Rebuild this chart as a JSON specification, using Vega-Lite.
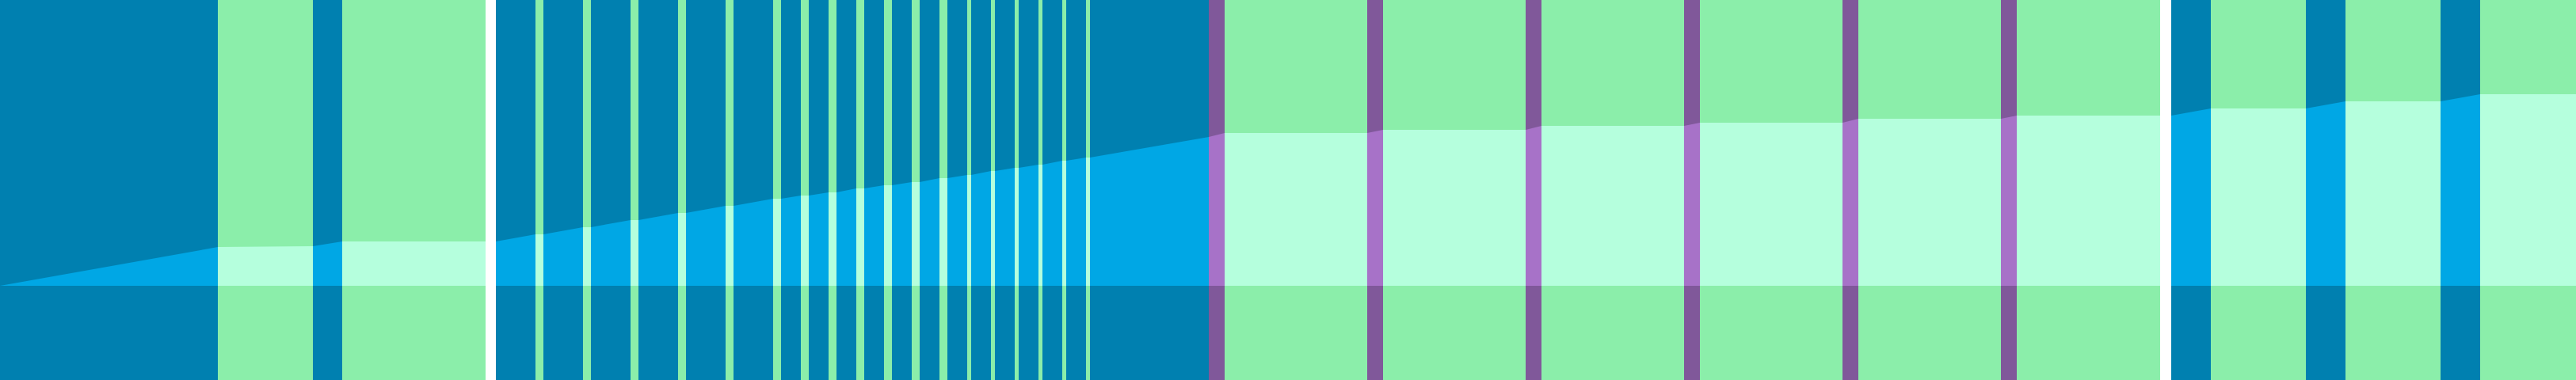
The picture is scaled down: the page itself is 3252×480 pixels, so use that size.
{
  "$schema": "https://vega.github.io/schema/vega-lite/v6.json",
  "width": 3252,
  "height": 480,
  "autosize": {"type": "fit", "contains": "padding"},
  "padding": 0,
  "background": "white",
  "config": {"view": {"stroke": null}},
  "datasets": {
    "bands": [
      {"start": 0, "end": 275, "kind": "run"},
      {"start": 275, "end": 395, "kind": "pause"},
      {"start": 395, "end": 432, "kind": "run"},
      {"start": 432, "end": 613, "kind": "pause"},
      {"start": 626, "end": 676, "kind": "run"},
      {"start": 676, "end": 686, "kind": "pause"},
      {"start": 686, "end": 736, "kind": "run"},
      {"start": 736, "end": 746, "kind": "pause"},
      {"start": 746, "end": 796, "kind": "run"},
      {"start": 796, "end": 806, "kind": "pause"},
      {"start": 806, "end": 856, "kind": "run"},
      {"start": 856, "end": 866, "kind": "pause"},
      {"start": 866, "end": 916, "kind": "run"},
      {"start": 916, "end": 926, "kind": "pause"},
      {"start": 926, "end": 976, "kind": "run"},
      {"start": 976, "end": 986, "kind": "pause"},
      {"start": 986, "end": 1011, "kind": "run"},
      {"start": 1011, "end": 1021, "kind": "pause"},
      {"start": 1021, "end": 1046, "kind": "run"},
      {"start": 1046, "end": 1056, "kind": "pause"},
      {"start": 1056, "end": 1081, "kind": "run"},
      {"start": 1081, "end": 1091, "kind": "pause"},
      {"start": 1091, "end": 1116, "kind": "run"},
      {"start": 1116, "end": 1126, "kind": "pause"},
      {"start": 1126, "end": 1151, "kind": "run"},
      {"start": 1151, "end": 1161, "kind": "pause"},
      {"start": 1161, "end": 1186, "kind": "run"},
      {"start": 1186, "end": 1196, "kind": "pause"},
      {"start": 1196, "end": 1221, "kind": "run"},
      {"start": 1221, "end": 1226, "kind": "pause"},
      {"start": 1226, "end": 1251, "kind": "run"},
      {"start": 1251, "end": 1256, "kind": "pause"},
      {"start": 1256, "end": 1281, "kind": "run"},
      {"start": 1281, "end": 1286, "kind": "pause"},
      {"start": 1286, "end": 1311, "kind": "run"},
      {"start": 1311, "end": 1316, "kind": "pause"},
      {"start": 1316, "end": 1341, "kind": "run"},
      {"start": 1341, "end": 1346, "kind": "pause"},
      {"start": 1346, "end": 1371, "kind": "run"},
      {"start": 1371, "end": 1376, "kind": "pause"},
      {"start": 1376, "end": 1526, "kind": "run"},
      {"start": 1526, "end": 1546, "kind": "step"},
      {"start": 1546, "end": 1726, "kind": "pause"},
      {"start": 1726, "end": 1746, "kind": "step"},
      {"start": 1746, "end": 1926, "kind": "pause"},
      {"start": 1926, "end": 1946, "kind": "step"},
      {"start": 1946, "end": 2126, "kind": "pause"},
      {"start": 2126, "end": 2146, "kind": "step"},
      {"start": 2146, "end": 2326, "kind": "pause"},
      {"start": 2326, "end": 2346, "kind": "step"},
      {"start": 2346, "end": 2526, "kind": "pause"},
      {"start": 2526, "end": 2546, "kind": "step"},
      {"start": 2546, "end": 2727, "kind": "pause"},
      {"start": 2741, "end": 2791, "kind": "run"},
      {"start": 2791, "end": 2911, "kind": "pause"},
      {"start": 2911, "end": 2961, "kind": "run"},
      {"start": 2961, "end": 3081, "kind": "pause"},
      {"start": 3081, "end": 3131, "kind": "run"},
      {"start": 3131, "end": 3252, "kind": "pause"}
    ],
    "progress": [
      {"t": 0, "level": 0},
      {"t": 275, "level": 49},
      {"t": 395, "level": 50},
      {"t": 432, "level": 56},
      {"t": 613, "level": 56},
      {"t": 626, "level": 56},
      {"t": 676, "level": 65},
      {"t": 686, "level": 65},
      {"t": 736, "level": 74},
      {"t": 746, "level": 74},
      {"t": 796, "level": 83},
      {"t": 806, "level": 83},
      {"t": 856, "level": 92},
      {"t": 866, "level": 92},
      {"t": 916, "level": 101},
      {"t": 926, "level": 101},
      {"t": 976, "level": 110},
      {"t": 986, "level": 110},
      {"t": 1011, "level": 114},
      {"t": 1021, "level": 114},
      {"t": 1046, "level": 118},
      {"t": 1056, "level": 118},
      {"t": 1081, "level": 123},
      {"t": 1091, "level": 123},
      {"t": 1116, "level": 127},
      {"t": 1126, "level": 127},
      {"t": 1151, "level": 131},
      {"t": 1161, "level": 131},
      {"t": 1186, "level": 136},
      {"t": 1196, "level": 136},
      {"t": 1221, "level": 140},
      {"t": 1226, "level": 140},
      {"t": 1251, "level": 145},
      {"t": 1256, "level": 145},
      {"t": 1281, "level": 149},
      {"t": 1286, "level": 149},
      {"t": 1311, "level": 153},
      {"t": 1316, "level": 153},
      {"t": 1341, "level": 158},
      {"t": 1346, "level": 158},
      {"t": 1371, "level": 162},
      {"t": 1376, "level": 162},
      {"t": 1526, "level": 188},
      {"t": 1546, "level": 193},
      {"t": 1726, "level": 193},
      {"t": 1746, "level": 197},
      {"t": 1926, "level": 197},
      {"t": 1946, "level": 202},
      {"t": 2126, "level": 202},
      {"t": 2146, "level": 206},
      {"t": 2326, "level": 206},
      {"t": 2346, "level": 211},
      {"t": 2526, "level": 211},
      {"t": 2546, "level": 215},
      {"t": 2727, "level": 215},
      {"t": 2741, "level": 215},
      {"t": 2791, "level": 224},
      {"t": 2911, "level": 224},
      {"t": 2961, "level": 233},
      {"t": 3081, "level": 233},
      {"t": 3131, "level": 242},
      {"t": 3252, "level": 242}
    ]
  },
  "layer": [
    {
      "data": {"name": "bands"},
      "mark": {"type": "rect"},
      "encoding": {
        "x": {"field": "start", "type": "quantitative", "scale": {"domain": [0, 3252], "nice": false, "zero": false}, "axis": null},
        "x2": {"field": "end"},
        "color": {
          "field": "kind",
          "type": "nominal",
          "scale": {"domain": ["run", "pause", "step"], "range": ["#0080b0", "#8beeaa", "#80589a"]},
          "legend": null
        }
      }
    },
    {
      "data": {"name": "progress"},
      "mark": {"type": "area", "color": "#3b3b3b", "blend": "color-dodge", "interpolate": "linear"},
      "encoding": {
        "x": {"field": "t", "type": "quantitative"},
        "y": {"field": "level", "type": "quantitative", "scale": {"domain": [-119, 361], "nice": false, "zero": false}, "axis": null},
        "y2": {"datum": 0}
      }
    }
  ]
}
